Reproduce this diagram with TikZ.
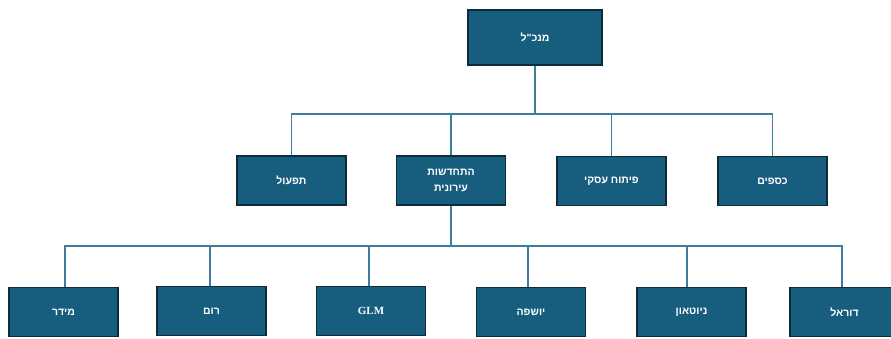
\documentclass[tikz,border=0pt]{standalone}
\usepackage{fontspec}
\TeXXeTstate=1
\setmainfont{Liberation Serif}
\newfontfamily\hebfont[Script=Hebrew]{Liberation Sans}
\definecolor{boxfill}{HTML}{175E7E}
\definecolor{boxline}{HTML}{0D2C3B}
\definecolor{conline}{HTML}{3E7E9C}
\tikzset{
  orgbox/.style={draw=boxline, line width=1.3pt, fill=boxfill, text=white,
    minimum width=109pt, minimum height=49pt, inner sep=2pt, align=center,
    font=\hebfont\bfseries\fontsize{10.5}{15.5}\selectfont},
  conn/.style={draw=conline, line width=1.7pt}
}
\begin{document}
\begin{tikzpicture}[x=1pt,y=-1pt]
\useasboundingbox (0,0) rectangle (891,338);
% top
\node[orgbox, minimum width=134pt, minimum height=55pt] (ceo) at (535,37.5) {\beginR מנכ"ל\endR};
% level 2
\node[orgbox] (tif) at (291.5,180.5) {\beginR תפעול\endR};
\node[orgbox] (hit) at (451,180.5) {\beginR התחדשות\endR\\\beginR עירונית\endR};
\node[orgbox] (pit) at (611.5,181) {\beginR פיתוח עסקי\endR};
\node[orgbox] (kes) at (772.5,181) {\beginR כספים\endR};
% level 3
\node[orgbox] (mid) at (63.5,312) {\beginR מידר\endR};
\node[orgbox] (rom) at (211.5,311) {\beginR רום\endR};
\node[orgbox, font=\rmfamily\bfseries\fontsize{11}{13}\selectfont] (glm) at (371,311) {GLM};
\node[orgbox] (yos) at (531,312) {\beginR יושפה\endR};
\node[orgbox] (niu) at (691.5,312) {\beginR ניוטאון\endR};
\node[orgbox] (dor) at (844.5,312) {\beginR דוראל\endR};
% bus coordinates
\coordinate (b1) at (535,114);
\coordinate (b2) at (451,246);
% connectors level 1-2
\draw[conn] (ceo.south) -- (b1);
\draw[conn] (tif.north) -- (tif.north |- b1) -- (kes.north |- b1) -- (kes.north);
\draw[conn] (hit.north) -- (hit.north |- b1);
\draw[conn] (pit.north) -- (pit.north |- b1);
% connectors level 2-3
\draw[conn] (hit.south) -- (b2);
\draw[conn] ([xshift=1.5pt]mid.north) -- ([xshift=1.5pt]mid.north |- b2) -- ([xshift=-2.5pt]dor.north |- b2) -- ([xshift=-2.5pt]dor.north);
\draw[conn] ([xshift=-1.5pt]rom.north) -- ([xshift=-1.5pt]rom.north |- b2);
\draw[conn] ([xshift=-2pt]glm.north) -- ([xshift=-2pt]glm.north |- b2);
\draw[conn] ([xshift=-3pt]yos.north) -- ([xshift=-3pt]yos.north |- b2);
\draw[conn] ([xshift=-4.5pt]niu.north) -- ([xshift=-4.5pt]niu.north |- b2);
\end{tikzpicture}
\end{document}
